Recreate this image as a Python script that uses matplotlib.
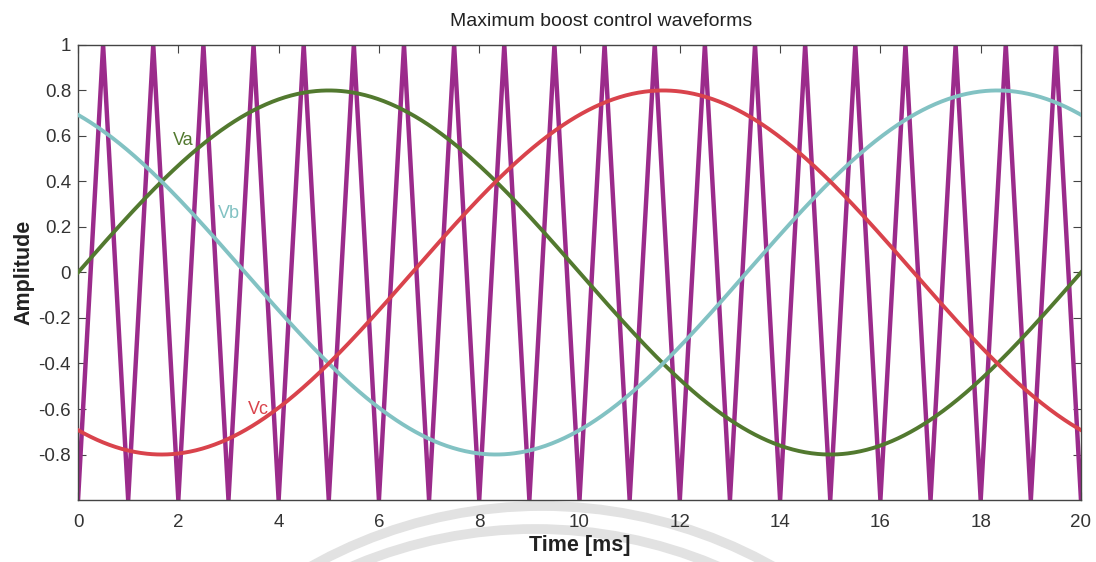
import numpy as np
import matplotlib
matplotlib.use('Agg')
import matplotlib.pyplot as plt
from matplotlib.patches import Ellipse

plt.rcParams['font.family'] = ['Liberation Sans', 'DejaVu Sans']

# modulation signals
mod_amplitude = 0.8
fund_period_ms = 20.0
phase_deg = {'Va': 0.0, 'Vb': 120.0, 'Vc': -120.0}
mod_colors = {'Va': '#52792f', 'Vb': '#82c2c3', 'Vc': '#d9434c'}
label_pos = {'Va': (2.1, 0.58), 'Vb': (3.0, 0.26), 'Vc': (3.6, -0.60)}

# triangular carrier vertices (valleys at whole ms, peaks half way)
carrier_t = [0, 0.5, 1, 1.5, 2, 2.5, 3, 3.5, 4, 4.5, 5, 5.5, 6, 6.5, 7, 7.5,
             8, 8.5, 9, 9.5, 10, 10.5, 11, 11.5, 12, 12.5, 13, 13.5, 14, 14.5,
             15, 15.5, 16, 16.5, 17, 17.5, 18, 18.5, 19, 19.5, 20]
carrier_v = [-1, 1] * 20 + [-1]

xticks = [0, 2, 4, 6, 8, 10, 12, 14, 16, 18, 20]
yticks = [-0.8, -0.6, -0.4, -0.2, 0, 0.2, 0.4, 0.6, 0.8, 1]
ytick_labels = ['-0.8', '-0.6', '-0.4', '-0.2', '0', '0.2', '0.4', '0.6', '0.8', '1']

fig = plt.figure(figsize=(10.96, 5.62), dpi=100)
fig.patch.set_facecolor('white')

# faint watermark arcs behind everything
W, H = 1096.0, 562.0
for cx, top, r in [(542, 506, 472), (535, 529, 467)]:
    e = Ellipse((cx / W, 1 - (top + r) / H), 2 * r / W, 2 * r / H,
                transform=fig.transFigure, fill=False, edgecolor='#e2e2e2',
                linewidth=7, zorder=0)
    fig.patches.append(e)

ax = fig.add_axes([0.0712, 0.1103, 0.9151, 0.8097])
ax.set_zorder(2)
ax.set_facecolor('none')

t = np.linspace(0, 20, 801)
ax.plot(carrier_t, carrier_v, color='#9b2b8b', linewidth=3.2, zorder=2)
for name in ['Va', 'Vb', 'Vc']:
    v = mod_amplitude * np.sin(2 * np.pi * t / fund_period_ms + np.deg2rad(phase_deg[name]))
    ax.plot(t, v, color=mod_colors[name], linewidth=2.8, zorder=3)
    ax.text(label_pos[name][0], label_pos[name][1], name, color=mod_colors[name],
            fontsize=13, ha='center', va='center', zorder=4)

ax.set_xlim(0, 20)
ax.set_ylim(-1, 1)
ax.set_xticks(xticks)
ax.set_yticks(yticks)
ax.set_yticklabels(ytick_labels)
ax.tick_params(direction='in', top=True, right=True, length=6, labelsize=13.5,
               colors='#444444', labelcolor='#333333')
ax.tick_params(axis='x', pad=10)
ax.tick_params(axis='y', pad=5)
for s in ax.spines.values():
    s.set_color('#444444')
    s.set_linewidth(1.0)

ax.set_title('Maximum boost control waveforms', fontsize=14, color='#222222',
             x=0.522, pad=14)
ax.set_xlabel('Time [ms]', fontsize=15.5, fontweight='bold', color='#222222', labelpad=3)
ax.set_ylabel('Amplitude', fontsize=15.5, fontweight='bold', color='#222222', labelpad=3)

plt.savefig('out.png', dpi=100, facecolor='white')
plt.close()
